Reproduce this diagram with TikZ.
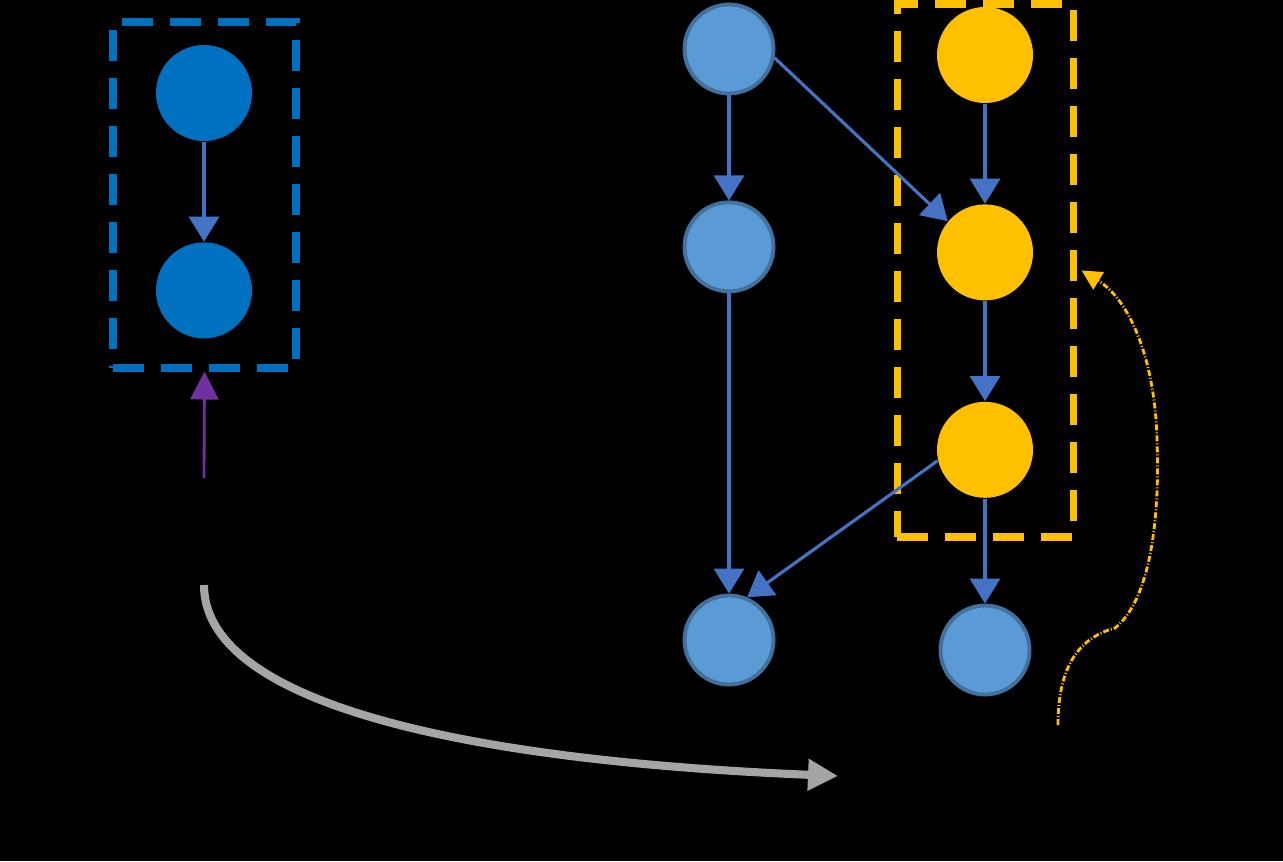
\documentclass[tikz,border=0pt]{standalone}
\usepackage{xcolor}
\usepackage{tikz}
\usetikzlibrary{positioning,arrows.meta,fit}
\definecolor{deepblue}{HTML}{0070C0}
\definecolor{skyblue}{HTML}{5B9BD5}
\definecolor{rimblue}{HTML}{41719C}
\definecolor{linkblue}{HTML}{4472C4}
\definecolor{gold}{HTML}{FFC000}
\definecolor{plum}{HTML}{7030A0}
\definecolor{ash}{HTML}{A5A5A5}

\begin{document}
\begin{tikzpicture}[
  darkdot/.style={circle,fill=deepblue,minimum size=0.96cm,inner sep=0pt},
  skydot/.style={circle,draw=rimblue,line width=1.1pt,fill=skyblue,minimum size=0.89cm,inner sep=0pt},
  golddot/.style={circle,fill=gold,minimum size=0.96cm,inner sep=0pt},
  groupbox/.style={draw,line width=2pt,dash pattern=on 0.31cm off 0.17cm,inner sep=0pt},
  arr/.style={-{Triangle[width=0.3cm,length=0.25cm]},line width=0.9pt,draw=linkblue},
  liftarr/.style={-{Triangle[width=0.28cm,length=0.28cm]},line width=0.8pt,draw=plum},
  sweeparr/.style={-{Triangle[width=0.3cm,length=0.3cm]},line width=2.3pt,draw=ash},
  loopback/.style={-{Triangle[width=0.2cm,length=0.2cm]},line width=0.8pt,draw=gold,
    dash pattern=on 0.06cm off 0.02cm on 0.01cm off 0.02cm}]
  \fill[black] (0,0) rectangle (12.83,-8.61);
  % left group
  \node[darkdot] (p1) at (2.04,-0.93) {};
  \node[darkdot,below=1.0cm of p1] (p2) {};
  \node[groupbox,draw=deepblue,minimum width=1.83cm,minimum height=3.46cm] (pbox) at (2.045,-1.95) {};
  % right graph
  \node[skydot] (a) at (7.29,-0.49) {};
  \node[skydot,below=1.05cm of a] (b) {};
  \node[skydot] (c) at (7.29,-6.40) {};
  \node[golddot] (y1) at (9.85,-0.55) {};
  \node[golddot,below=1.0cm of y1] (y2) {};
  \node[golddot,below=1.0cm of y2] (y3) {};
  \node[skydot] (d) at (9.85,-6.50) {};
  \node[groupbox,draw=gold,minimum width=1.76cm,minimum height=5.33cm] (ybox) at (9.85,-2.705) {};
  \foreach \u/\v in {p1/p2,a/b,b/c,y1/y2,y2/y3,y3/d} \draw[arr] (\u) -- (\v);
  \draw[arr] (a.-11) -- (y2.140);
  \draw[arr] (y3.193) -- (c.67);
  % free ends
  \coordinate (liftstart) at (2.04,-4.78);
  \coordinate (sweepstart) at (2.04,-5.85);
  \coordinate (sweepend) at (8.38,-7.76);
  \coordinate (loopstart) at (10.58,-7.25);
  \draw[liftarr] (liftstart) -- (pbox.south);
  \draw[sweeparr] (sweepstart) .. controls (2.04,-7.0) and (4.5,-7.6) .. (sweepend);
  \draw[loopback] (loopstart) .. controls (10.58,-6.8) and (10.70,-6.40) .. (11.15,-6.28)
    .. controls (11.50,-6.00) and (11.60,-5.20) .. (11.57,-4.40)
    .. controls (11.55,-3.60) and (11.30,-3.00) .. ([xshift=0.05cm]ybox.east);
\end{tikzpicture}
\end{document}
